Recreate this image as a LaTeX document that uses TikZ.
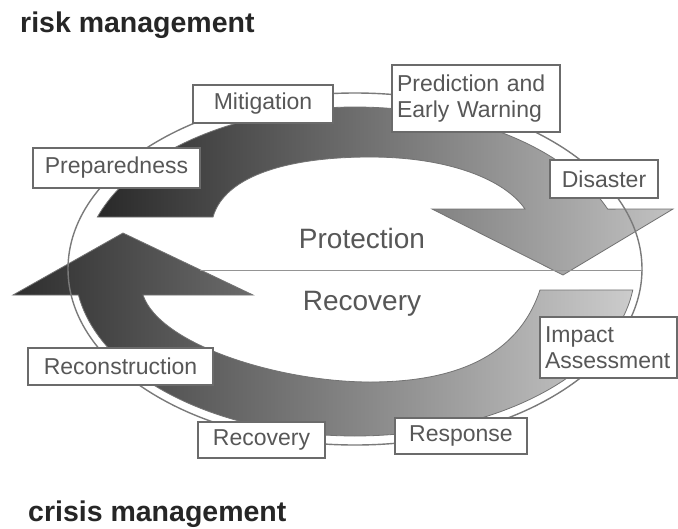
\documentclass[tikz,border=0pt]{standalone}
\usepackage{fontspec}
\setmainfont{Liberation Sans}
\newcommand\lblfont{\fontsize{23}{26}\selectfont}
\newcommand\midfont{\fontsize{28}{32}\selectfont}
\newcommand\ttlfont{\fontsize{28.5}{32}\selectfont\bfseries}
\tikzset{
  box/.style={draw=black!58, line width=1.1pt, fill=white, text=black!66,
    font=\lblfont, inner sep=0pt},
  twoline/.style={box, align=left, inner xsep=5pt},
  outline/.style={draw=black!52, line width=1.4pt},
  divider/.style={draw=black!42, line width=1pt},
  arrowshape/.style={draw=black!55, line width=0.8pt},
  midlabel/.style={font=\midfont, text=black!66, anchor=base},
  title/.style={font=\ttlfont, text=black!85, anchor=base west, inner sep=0pt}
}
\begin{document}
\begin{tikzpicture}[x=1pt, y=-1pt]
\useasboundingbox (0,0) rectangle (678,528);
\fill[white] (0,0) rectangle (678,528);

% upper arrow (risk side): from Preparedness over the top to the Disaster head
\path[arrowshape, left color=black!84, middle color=black!60, right color=black!24]
  plot[domain=21.7:161.3, samples=90] ({355+272*cos(\x)},{269-162*sin(\x)})
  -- (213,217) .. controls (225,175) and (290,157) .. (370,157)
  .. controls (450,157) and (505,180) .. (525,209)
  -- (432,209) -- (563,275) -- (673,209) -- cycle;

% lower arrow (crisis side): from Impact Assessment under the bottom to the left head
\path[arrowshape, left color=black!82, middle color=black!48, right color=black!20]
  plot[domain=188.96:352.78, samples=90] ({355+280*cos(\x)},{269-167*sin(\x)})
  -- (540,290) .. controls (515,365) and (440,382) .. (370,382)
  .. controls (280,382) and (160,345) .. (143,295)
  -- (253,295) -- (123,233) -- (13,295) -- cycle;

% thin cycle outline
\coordinate (c) at (355,269);
\draw[outline] (c) ellipse [x radius=287pt, y radius=176pt];

% divider between protection and recovery
\coordinate (dl) at (200,270);
\coordinate (dr) at (643,270);
\draw[divider] (dl) -- (dr);

% labels in boxes
\node[box, minimum width=140pt, minimum height=38pt] (mit) at (263,104) {Mitigation};
\node[twoline, text width=158pt, minimum height=67pt] (pred) at (476,98.5) {Prediction and\\Early Warning};
\node[box, minimum width=167pt, minimum height=40pt] (prep) at (116.5,168) {Preparedness};
\node[box, minimum width=108pt, minimum height=38pt] (dis) at (604,179) {Disaster};
\node[box, minimum width=185pt, minimum height=37pt] (recon) at (120.5,366.5) {Reconstruction};
\node[twoline, text width=127pt, minimum height=61pt] (imp) at (608.5,347.5) {Impact\\Assessment};
\node[box, minimum width=127pt, minimum height=36pt] (recb) at (261.5,440) {Recovery};
\node[box, minimum width=132pt, minimum height=36pt] (resp) at (461,436) {Response};

% middle labels
\node[midlabel] (prot) at (362,248) {Protection};
\node[midlabel] (recm) at (362,310) {Recovery};

% titles
\node[title] (risk) at (20,32) {risk management};
\node[title] (crisis) at (28,521) {crisis management};
\end{tikzpicture}
\end{document}
